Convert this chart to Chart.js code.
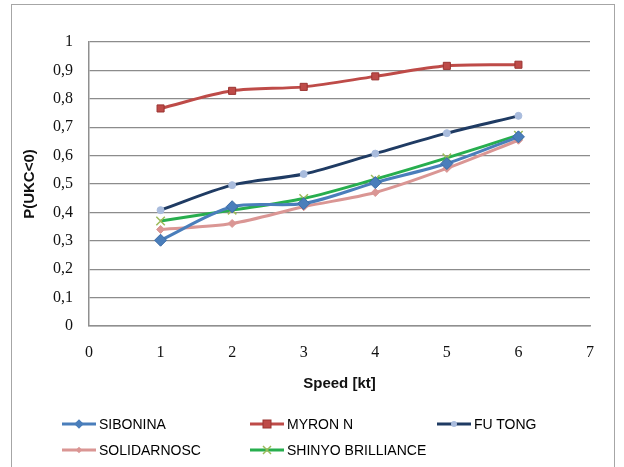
<!DOCTYPE html>
<html>
<head>
<meta charset="utf-8">
<script src="https://cdn.jsdelivr.net/npm/chart.js@4"></script>
<style>
  body { margin: 0; background: #fff; }
  #wrap { position: relative; width: 624px; height: 467px; }
  #frame { position: absolute; left: 11px; top: 4px; width: 604px; height: 470px; border: 1px solid #a6a6a6; box-sizing: border-box; }
  canvas { position: absolute; left: 0; top: 0; }
  .leg { position: absolute; font: 14px "Liberation Sans", Arial, sans-serif; color: #000; white-space: nowrap; display: flex; align-items: center; height: 18px; }
  .leg svg { margin-right: 3px; }
</style>
</head>
<body>
<div id="wrap">
  <div id="frame"></div>
  <canvas id="chart" width="624" height="467"></canvas>
  <div id="legend"></div>
</div>
<script>
const speeds = [1, 2, 3, 4, 5, 6];
const sibonina = [0.302, 0.420, 0.431, 0.505, 0.572, 0.666];
const myronN = [0.766, 0.828, 0.842, 0.879, 0.916, 0.920];
const fuTong = [0.408, 0.496, 0.535, 0.607, 0.679, 0.740];
const solidarnosc = [0.340, 0.361, 0.420, 0.470, 0.555, 0.654];
const shinyoBrilliance = [0.370, 0.408, 0.449, 0.517, 0.592, 0.672];

const xTicks = [0, 1, 2, 3, 4, 5, 6, 7];
const yTicks = [0, 0.1, 0.2, 0.3, 0.4, 0.5, 0.6, 0.7, 0.8, 0.9, 1];

const seriesNames = ['SIBONINA', 'MYRON N', 'FU TONG', 'SOLIDARNOSC', 'SHINYO BRILLIANCE'];

function toPoints(values) {
    return values.map((v, i) => ({x: speeds[i], y: v}));
}

const series = [
    {label: seriesNames[0], values: sibonina, line: '#4A7EBB', fill: '#4A7EBB', edge: '#3A6AA6', style: 'rectRot', r: 6},
    {label: seriesNames[1], values: myronN, line: '#BE4B48', fill: '#BE4B48', edge: '#9A3431', style: 'rect', r: 5},
    {label: seriesNames[2], values: fuTong, line: '#1F3B63', fill: '#A9BCDD', edge: '#A9BCDD', style: 'circle', r: 3.5},
    {label: seriesNames[3], values: solidarnosc, line: '#DA9694', fill: '#DA9694', edge: '#DA9694', style: 'rectRot', r: 4},
    {label: seriesNames[4], values: shinyoBrilliance, line: '#27AE4E', fill: '#9BBB59', edge: '#9BBB59', style: 'crossRot', r: 6}
];

const datasets = series.map(s => ({
    label: s.label,
    data: toPoints(s.values),
    borderColor: s.line,
    backgroundColor: s.fill,
    borderWidth: 3,
    pointStyle: s.style,
    pointRadius: s.r,
    pointBackgroundColor: s.fill,
    pointBorderColor: s.edge,
    pointBorderWidth: s.style === 'crossRot' ? 1.5 : 1,
    tension: 0.3,
    fill: false
}));

function fmt(v) {
    const r = Math.round(v * 10) / 10;
    if (r === 0 || r === 1) return String(r);
    return r.toFixed(1).replace('.', ',');
}

const tickFont = {family: '"Liberation Serif", "Times New Roman", serif', size: 16};
const titleFont = {family: '"Liberation Sans", Arial, sans-serif', size: 15, weight: 'bold'};

const ctx = document.getElementById('chart').getContext('2d');
window.chart = new Chart(ctx, {
    type: 'line',
    data: {datasets: datasets},
    options: {
        responsive: false,
        animation: false,
        layout: {padding: {left: 0, right: 34, top: 42, bottom: 70}},
        scales: {
            x: {
                type: 'linear',
                min: xTicks[0],
                max: xTicks[xTicks.length - 1],
                afterBuildTicks: s => { s.ticks = xTicks.map(v => ({value: v})); },
                afterFit: s => { s.height = 71; },
                ticks: {color: '#111', font: tickFont, padding: 17},
                grid: {display: false, drawTicks: false},
                border: {display: true, color: '#8f8f8f', width: 1.5},
                title: {display: true, text: 'Speed [kt]', color: '#111', font: titleFont, padding: {top: 4, bottom: 4}}
            },
            y: {
                min: yTicks[0],
                max: yTicks[yTicks.length - 1],
                afterBuildTicks: s => { s.ticks = yTicks.map(v => ({value: v})); },
                afterFit: s => { s.width = 89; },
                ticks: {color: '#111', font: tickFont, padding: 16, callback: v => fmt(v)},
                grid: {color: '#8c8c8c', lineWidth: 1.2, drawTicks: false},
                border: {display: true, color: '#8f8f8f', width: 1.5},
                title: {display: true, text: 'P(UKC<0)', color: '#111', font: titleFont, padding: {top: 21, bottom: 4}}
            }
        },
        plugins: {
            legend: {display: false},
            tooltip: {enabled: false}
        }
    }
});

// legend laid out like the original: three columns, two rows
const legendSlots = [[62, 415], [250, 415], [437, 415], [62, 441], [250, 441]];

function legendIcon(s) {
    let m = '';
    const c = 17, cy = 9;
    if (s.style === 'rectRot') {
        const r = s.r * 0.8;
        m = `<polygon points="${c},${cy - r} ${c + r},${cy} ${c},${cy + r} ${c - r},${cy}" fill="${s.fill}"/>`;
    } else if (s.style === 'rect') {
        m = `<rect x="${c - 4}" y="${cy - 4}" width="8" height="8" fill="${s.fill}" stroke="${s.edge}"/>`;
    } else if (s.style === 'circle') {
        m = `<circle cx="${c}" cy="${cy}" r="3" fill="${s.fill}"/>`;
    } else {
        m = `<path d="M${c - 4} ${cy - 4}L${c + 4} ${cy + 4}M${c + 4} ${cy - 4}L${c - 4} ${cy + 4}" stroke="${s.fill}" stroke-width="1.5"/>`;
    }
    return `<svg width="34" height="18"><line x1="0" y1="${cy}" x2="34" y2="${cy}" stroke="${s.line}" stroke-width="3"/>${m}</svg>`;
}

const legendEl = document.getElementById('legend');
series.forEach((s, i) => {
    const item = document.createElement('div');
    item.className = 'leg';
    item.style.left = legendSlots[i][0] + 'px';
    item.style.top = legendSlots[i][1] + 'px';
    item.innerHTML = legendIcon(s) + '<span>' + s.label + '</span>';
    legendEl.appendChild(item);
});
</script>
</body>
</html>
